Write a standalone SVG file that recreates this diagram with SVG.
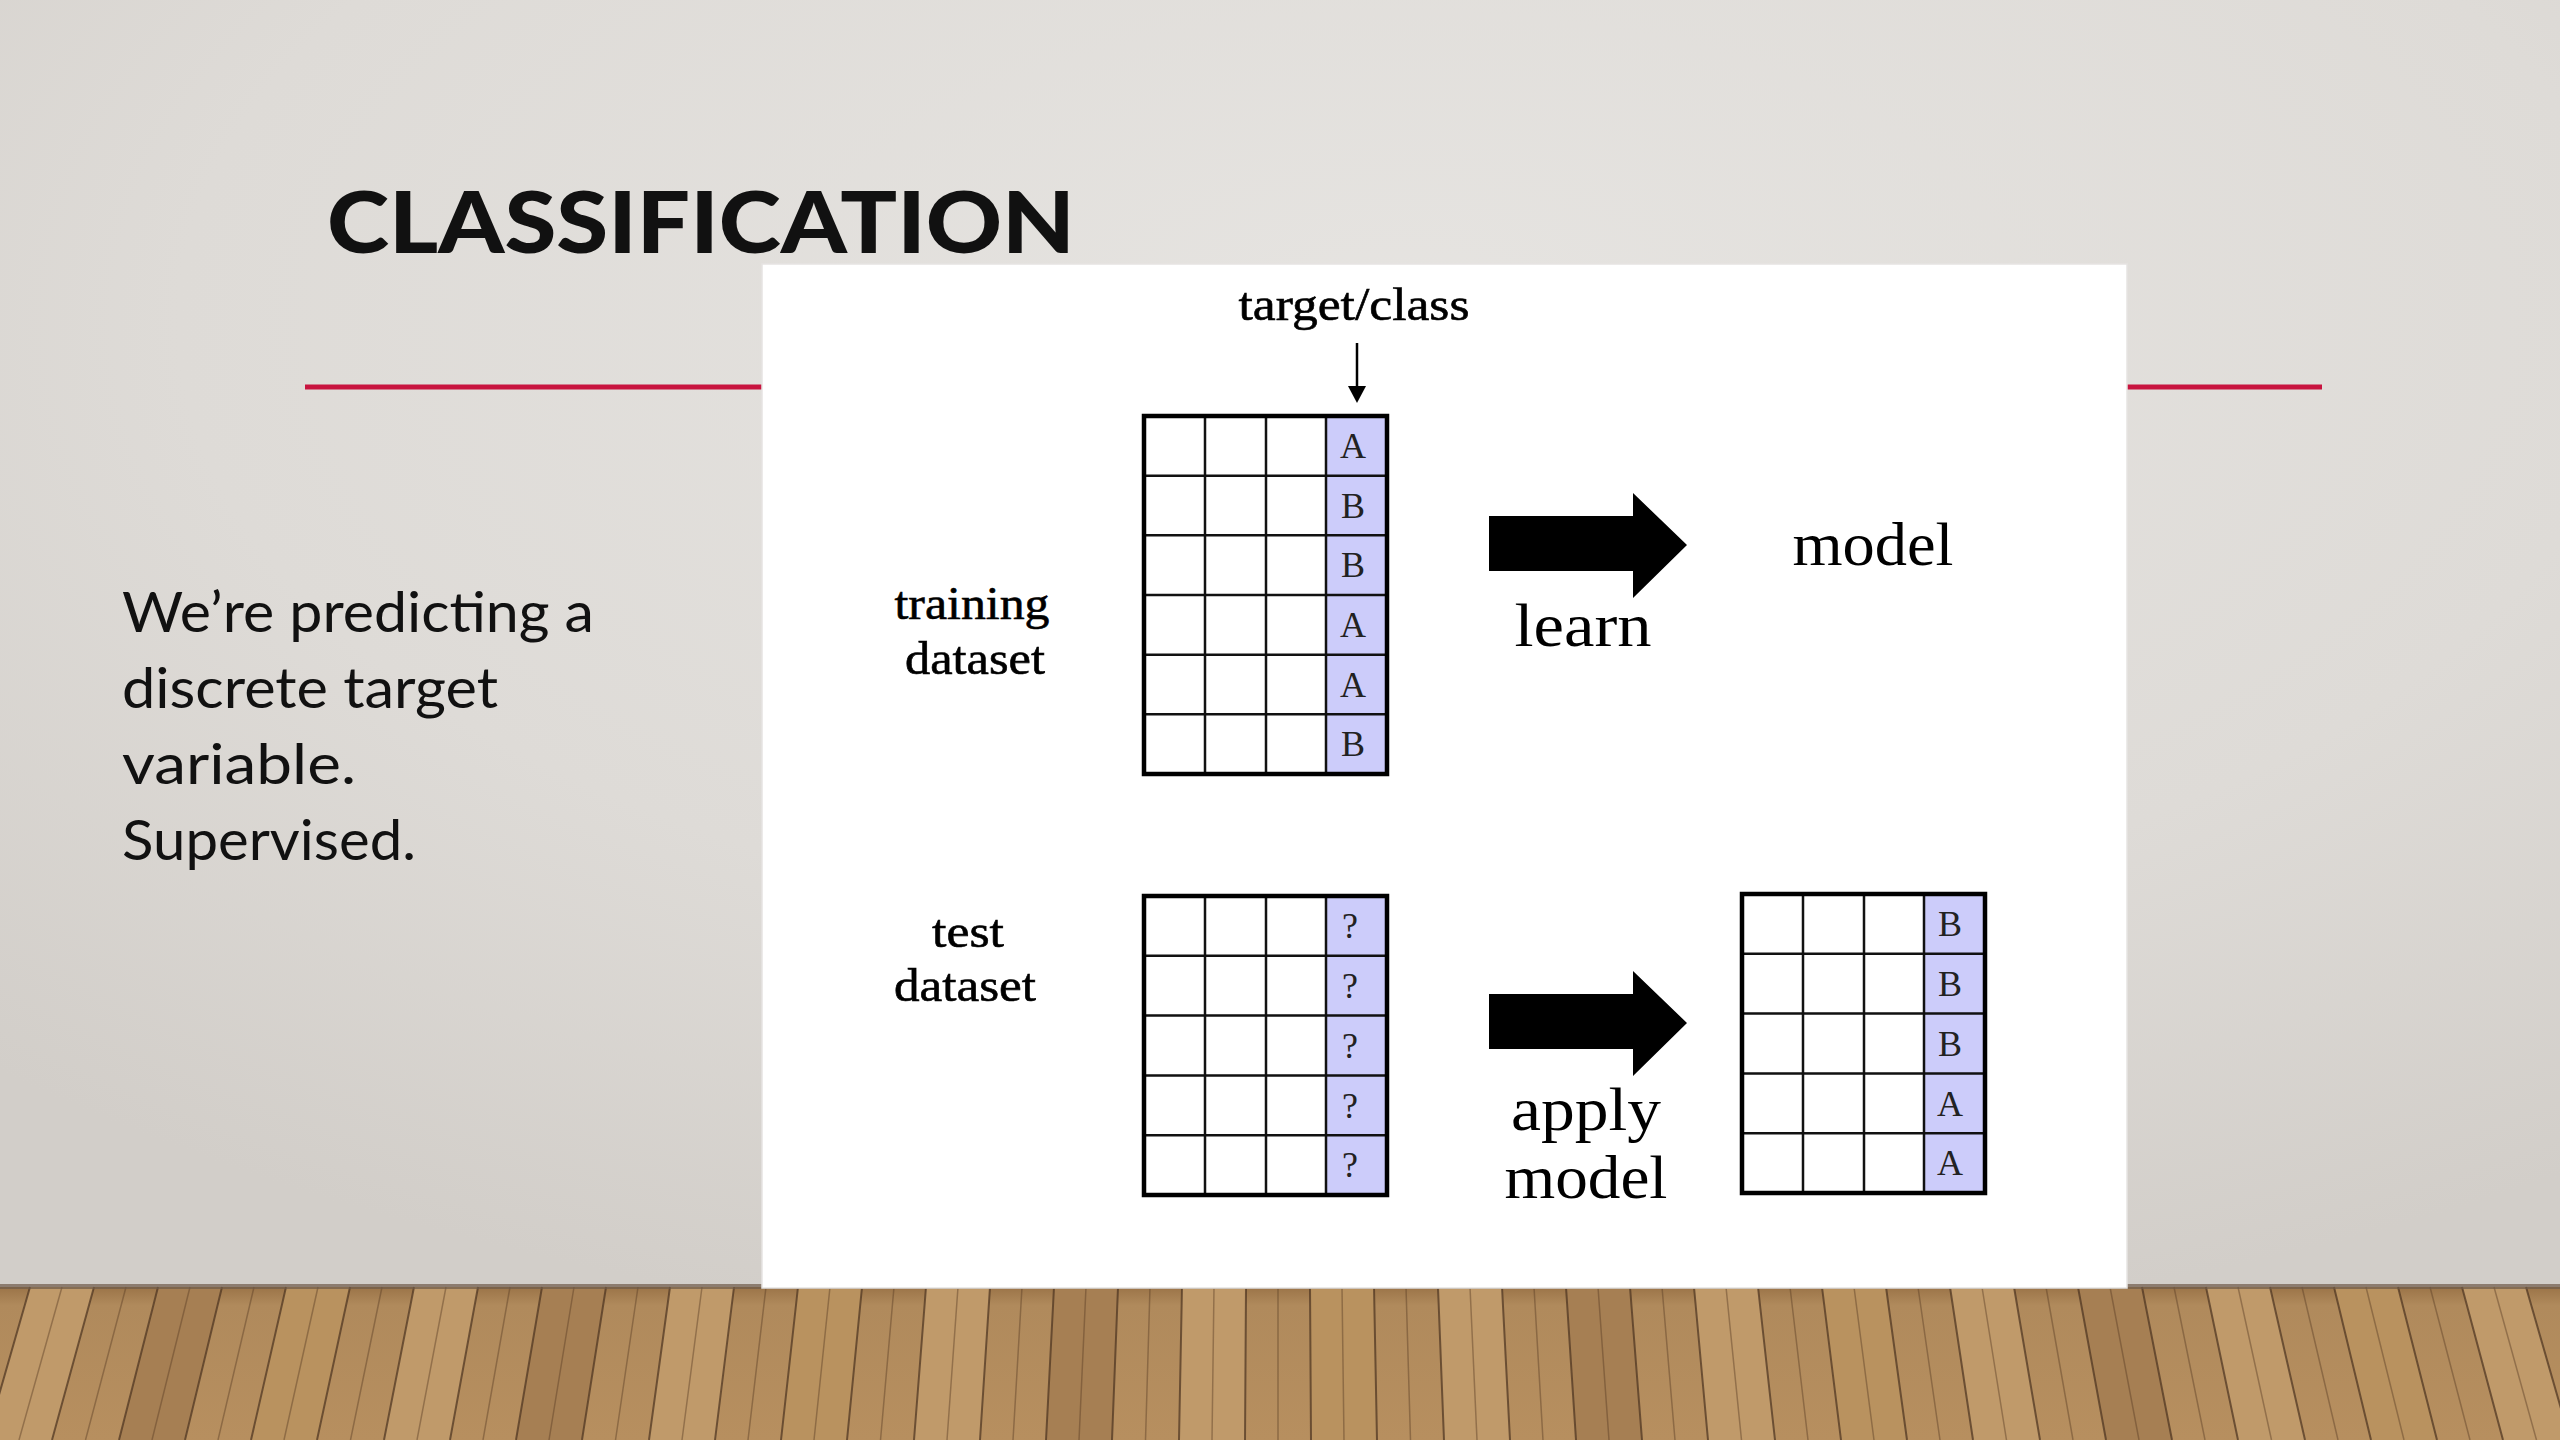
<svg xmlns="http://www.w3.org/2000/svg" xmlns:xlink="http://www.w3.org/1999/xlink" width="2560" height="1440" viewBox="0 0 2560 1440">
<defs>
<radialGradient id="wall" cx="0.55" cy="0.25" r="0.8">
<stop offset="0" stop-color="#e6e4e1"/>
<stop offset="0.6" stop-color="#dedbd7"/>
<stop offset="1" stop-color="#d2cec9"/>
</radialGradient>
<linearGradient id="floor" x1="0" y1="0" x2="0" y2="1">
<stop offset="0" stop-color="#9b7448"/>
<stop offset="0.12" stop-color="#b08a5c"/>
<stop offset="1" stop-color="#b78f5f"/>
</linearGradient>
<path id="bigArrow" d="M0,23 L144,23 L144,0 L198,52 L144,105 L144,78 L0,78 Z"/>
<style>
.title{font-family:Lato,"Open Sans","Liberation Sans",sans-serif;font-weight:900;font-size:86px;fill:#111}
.body{font-family:Lato,"Open Sans","Liberation Sans",sans-serif;font-size:56px;fill:#111}
.serif{font-family:"Liberation Serif","DejaVu Serif",serif;fill:#000;text-anchor:middle}
.lbl{font-size:46px;stroke:#000;stroke-width:0.6}
.big{font-size:62px}
.cellt{font-family:"Liberation Serif","DejaVu Serif",serif;font-size:36px;fill:#222;text-anchor:middle}
.tgt{fill:#ccccfa}
.grid{stroke:#111;stroke-width:2.5;fill:none}
.outer{stroke:#000;stroke-width:4.5;fill:none}
.plankA{fill:#c09a6a}
.plankB{fill:#a67f53}
.plankC{fill:#b9925f}
.seam{stroke:#4a3220;stroke-width:2;opacity:0.7;fill:none}
.seam2{stroke:#5a3d25;stroke-width:1.5;opacity:0.45;fill:none}
</style>
</defs>

<g id="background">
<rect x="0" y="0" width="2560" height="1290" fill="url(#wall)"/>
<rect x="0" y="1287" width="2560" height="153" fill="url(#floor)"/>
<g id="planks">
<polygon class="plankA" points="30,1287 94,1287 52,1440 -14,1440"/>
<polygon class="plankB" points="158,1287 222,1287 185,1440 119,1440"/>
<polygon class="plankC" points="286,1287 350,1287 317,1440 251,1440"/>
<polygon class="plankA" points="414,1287 478,1287 450,1440 384,1440"/>
<polygon class="plankB" points="542,1287 606,1287 582,1440 516,1440"/>
<polygon class="plankA" points="670,1287 734,1287 715,1440 649,1440"/>
<polygon class="plankC" points="798,1287 862,1287 847,1440 781,1440"/>
<polygon class="plankA" points="926,1287 990,1287 980,1440 914,1440"/>
<polygon class="plankB" points="1054,1287 1118,1287 1112,1440 1046,1440"/>
<polygon class="plankA" points="1182,1287 1246,1287 1245,1440 1179,1440"/>
<polygon class="plankC" points="1310,1287 1374,1287 1377,1440 1311,1440"/>
<polygon class="plankA" points="1438,1287 1502,1287 1510,1440 1444,1440"/>
<polygon class="plankB" points="1566,1287 1630,1287 1642,1440 1576,1440"/>
<polygon class="plankA" points="1694,1287 1758,1287 1775,1440 1708,1440"/>
<polygon class="plankC" points="1822,1287 1886,1287 1907,1440 1841,1440"/>
<polygon class="plankA" points="1950,1287 2014,1287 2040,1440 1973,1440"/>
<polygon class="plankB" points="2078,1287 2142,1287 2172,1440 2106,1440"/>
<polygon class="plankA" points="2206,1287 2270,1287 2305,1440 2238,1440"/>
<polygon class="plankC" points="2334,1287 2398,1287 2437,1440 2371,1440"/>
<polygon class="plankA" points="2462,1287 2526,1287 2570,1440 2503,1440"/>
</g>
<path class="seam" d="M30,1287L-14,1440M94,1287L52,1440M158,1287L119,1440M222,1287L185,1440M286,1287L251,1440M350,1287L317,1440M414,1287L384,1440M478,1287L450,1440M542,1287L516,1440M606,1287L582,1440M670,1287L649,1440M734,1287L715,1440M798,1287L781,1440M862,1287L847,1440M926,1287L914,1440M990,1287L980,1440M1054,1287L1046,1440M1118,1287L1112,1440M1182,1287L1179,1440M1246,1287L1245,1440M1310,1287L1311,1440M1374,1287L1377,1440M1438,1287L1444,1440M1502,1287L1510,1440M1566,1287L1576,1440M1630,1287L1642,1440M1694,1287L1708,1440M1758,1287L1775,1440M1822,1287L1841,1440M1886,1287L1907,1440M1950,1287L1973,1440M2014,1287L2040,1440M2078,1287L2106,1440M2142,1287L2172,1440M2206,1287L2238,1440M2270,1287L2305,1440M2334,1287L2371,1440M2398,1287L2437,1440M2462,1287L2503,1440M2526,1287L2570,1440"/>
<path class="seam2" d="M62,1287L19,1440M126,1287L85.5,1440M190,1287L152,1440M254,1287L218,1440M318,1287L284,1440M382,1287L350.5,1440M446,1287L417,1440M510,1287L483,1440M574,1287L549,1440M638,1287L615.5,1440M702,1287L682,1440M766,1287L748,1440M830,1287L814,1440M894,1287L880.5,1440M958,1287L947,1440M1022,1287L1013,1440M1086,1287L1079,1440M1150,1287L1145.5,1440M1214,1287L1212,1440M1278,1287L1278,1440M1342,1287L1344,1440M1406,1287L1410.5,1440M1470,1287L1477,1440M1534,1287L1543,1440M1598,1287L1609,1440M1662,1287L1675,1440M1726,1287L1741.5,1440M1790,1287L1808,1440M1854,1287L1874,1440M1918,1287L1940,1440M1982,1287L2006.5,1440M2046,1287L2073,1440M2110,1287L2139,1440M2174,1287L2205,1440M2238,1287L2271.5,1440M2302,1287L2338,1440M2366,1287L2404,1440M2430,1287L2470,1440M2494,1287L2536.5,1440"/>
<rect x="0" y="1284" width="2560" height="5" fill="#6e5a48" opacity="0.7"/>
</g>

<g id="title">
<text class="title" x="327" y="253" textLength="748" lengthAdjust="spacingAndGlyphs">CLASSIFICATION</text>
</g>
<g id="title-rule">
<line x1="305" y1="387" x2="2322" y2="387" stroke="#c8143f" stroke-width="5"/>
</g>

<g id="description">
<text class="body" x="122" y="632" textLength="472" lengthAdjust="spacingAndGlyphs">We’re predicting a</text>
<text class="body" x="122" y="708" textLength="376" lengthAdjust="spacingAndGlyphs">discrete target</text>
<text class="body" x="122" y="784" textLength="234" lengthAdjust="spacingAndGlyphs">variable.</text>
<text class="body" x="122" y="860" textLength="294" lengthAdjust="spacingAndGlyphs">Supervised.</text>
</g>

<g id="panel">
<rect x="762" y="264" width="1365" height="1024" fill="#ffffff" stroke="#e6e4e2" stroke-width="1.5"/>
</g>

<g id="label-target">
<text class="serif lbl" x="1354" y="320" textLength="231" lengthAdjust="spacingAndGlyphs">target/class</text>
</g>
<g id="label-training">
<text class="serif lbl" x="972" y="619" textLength="155" lengthAdjust="spacingAndGlyphs">training</text>
<text class="serif lbl" x="975" y="674" textLength="140" lengthAdjust="spacingAndGlyphs">dataset</text>
</g>
<g id="label-test">
<text class="serif lbl" x="968" y="947" textLength="72" lengthAdjust="spacingAndGlyphs">test</text>
<text class="serif lbl" x="965" y="1001" textLength="142" lengthAdjust="spacingAndGlyphs">dataset</text>
</g>

<g id="training-table">
<rect class="tgt" x="1326" y="416" width="61" height="358"/>
<path class="grid" d="M1205,416V774M1266,416V774M1326,416V774M1144,475.7H1387M1144,535.3H1387M1144,595H1387M1144,654.7H1387M1144,714.3H1387"/>
<rect class="outer" x="1144" y="416" width="243" height="358"/>
<text class="cellt" x="1353" y="458">A</text>
<text class="cellt" x="1353" y="518">B</text>
<text class="cellt" x="1353" y="577">B</text>
<text class="cellt" x="1353" y="637">A</text>
<text class="cellt" x="1353" y="697">A</text>
<text class="cellt" x="1353" y="756">B</text>
</g>

<g id="model">
<text class="serif big" x="1873" y="565" textLength="161" lengthAdjust="spacingAndGlyphs">model</text>
</g>

<g id="test-table">
<rect class="tgt" x="1326" y="896" width="61" height="299"/>
<path class="grid" d="M1205,896V1195M1266,896V1195M1326,896V1195M1144,955.8H1387M1144,1015.6H1387M1144,1075.4H1387M1144,1135.2H1387"/>
<rect class="outer" x="1144" y="896" width="243" height="299"/>
<text class="cellt" x="1350" y="938">?</text>
<text class="cellt" x="1350" y="998">?</text>
<text class="cellt" x="1350" y="1058">?</text>
<text class="cellt" x="1350" y="1118">?</text>
<text class="cellt" x="1350" y="1177">?</text>
</g>

<g id="result-table">
<rect class="tgt" x="1924" y="894" width="61" height="299"/>
<path class="grid" d="M1803,894V1193M1864,894V1193M1924,894V1193M1742,953.8H1985M1742,1013.6H1985M1742,1073.4H1985M1742,1133.2H1985"/>
<rect class="outer" x="1742" y="894" width="243" height="299"/>
<text class="cellt" x="1950" y="936">B</text>
<text class="cellt" x="1950" y="996">B</text>
<text class="cellt" x="1950" y="1056">B</text>
<text class="cellt" x="1950" y="1116">A</text>
<text class="cellt" x="1950" y="1175">A</text>
</g>

<g id="connectors">
<line x1="1357" y1="343" x2="1357" y2="390" stroke="#000" stroke-width="2.5"/>
<polygon points="1348,386 1366,386 1357,403" fill="#000"/>
<use xlink:href="#bigArrow" href="#bigArrow" x="1489" y="493" fill="#000"/>
<use xlink:href="#bigArrow" href="#bigArrow" x="1489" y="971" fill="#000"/>
<text class="serif big" x="1583" y="646" textLength="137" lengthAdjust="spacingAndGlyphs">learn</text>
<text class="serif big" x="1586" y="1130" textLength="150" lengthAdjust="spacingAndGlyphs">apply</text>
<text class="serif big" x="1586" y="1198" textLength="163" lengthAdjust="spacingAndGlyphs">model</text>
</g>
</svg>
